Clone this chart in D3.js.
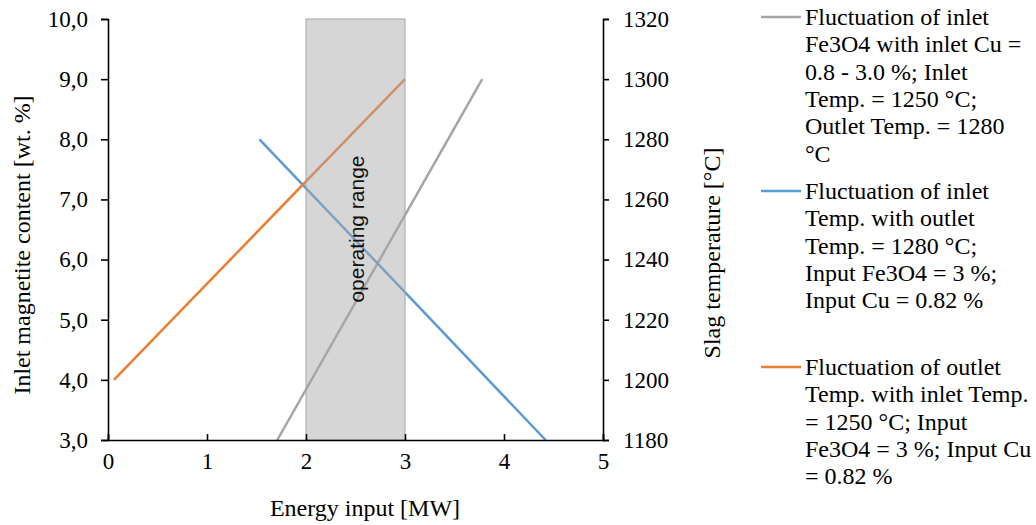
<!DOCTYPE html>
<html>
<head>
<meta charset="utf-8">
<script src="https://cdn.jsdelivr.net/npm/d3@7"></script>
<style>
  body { margin: 0; background: #fff; }
  svg { display: block; }
</style>
</head>
<body>
<svg id="chart"></svg>
<script>
// data
var xTicks = [0, 1, 2, 3, 4, 5];
var leftTicks = [3, 4, 5, 6, 7, 8, 9, 10];
var rightTicks = [1180, 1200, 1220, 1240, 1260, 1280, 1300, 1320];
var operatingRange = [2, 3];

// inlet Fe3O4 fluctuation (left axis, wt. %)
var grayX = [1.71, 3.78];
var grayY = [3.0, 9.0];
// inlet temperature fluctuation (right axis, °C)
var blueX = [1.53, 4.42];
var blueY = [1280, 1180];
// outlet temperature fluctuation (right axis, °C)
var orangeX = [0.06, 3.0];
var orangeY = [1200, 1300];

var legendGray = ["Fluctuation of inlet", "Fe3O4 with inlet Cu =", "0.8 - 3.0 %; Inlet",
                  "Temp. = 1250 °C;", "Outlet Temp. = 1280", "°C"];
var legendBlue = ["Fluctuation of inlet", "Temp. with outlet", "Temp. = 1280 °C;",
                  "Input Fe3O4 = 3 %;", "Input Cu = 0.82 %"];
var legendOrange = ["Fluctuation of outlet", "Temp. with inlet Temp.", "= 1250 °C; Input",
                    "Fe3O4 = 3 %; Input Cu", "= 0.82 %"];

var SERIF = "'Liberation Serif', 'Times New Roman', serif";

var W = 1036, H = 525;
var margin = {top: 19, right: 433, bottom: 85, left: 108},
    width = W - margin.left - margin.right,
    height = H - margin.top - margin.bottom;

var svgRoot = d3.select("#chart").attr("width", W).attr("height", H);
var svg = svgRoot.append("g")
    .attr("transform", "translate(" + margin.left + "," + margin.top + ")");

var x = d3.scaleLinear().domain([0, 5]).range([0, width]);
var yL = d3.scaleLinear().domain([3, 10]).range([height, 0]);
var yR = d3.scaleLinear().domain([1180, 1320]).range([height, 0]);

var commaFmt = d3.formatLocale({decimal: ",", thousands: "", grouping: [3], currency: ["", ""]}).format(".1f");

// series lines
var series = [
  {xs: grayX, ys: grayY, y: yL, color: "#a5a5a5"},
  {xs: blueX, ys: blueY, y: yR, color: "#5b9bd5"},
  {xs: orangeX, ys: orangeY, y: yR, color: "#ed7d31"}
];
series.forEach(function(s) {
  var pts = s.xs.map(function(v, i) { return [v, s.ys[i]]; });
  svg.append("path")
      .datum(pts)
      .attr("fill", "none")
      .attr("stroke", s.color)
      .attr("stroke-width", 2.5)
      .attr("d", d3.line()
        .x(function(d) { return x(d[0]); })
        .y(function(d) { return s.y(d[1]); }));
});

// operating range box, semi transparent over the lines
svg.append("rect")
    .attr("x", x(operatingRange[0]))
    .attr("y", 0)
    .attr("width", x(operatingRange[1]) - x(operatingRange[0]))
    .attr("height", height)
    .attr("fill", "rgb(169,167,168)")
    .attr("fill-opacity", 0.47)
    .attr("stroke", "#a6a6a6")
    .attr("stroke-width", 1);

svg.append("text")
    .attr("transform", "translate(" + ((x(operatingRange[0]) + x(operatingRange[1])) / 2 + 8) + "," + 210 + ") rotate(-90)")
    .style("text-anchor", "middle")
    .style("font-family", "'Liberation Sans', sans-serif")
    .style("font-size", "21px")
    .style("fill", "#111")
    .text("operating range");

// axes
function styleAxis(g) {
  g.selectAll("path, line").attr("stroke", "#000").attr("stroke-width", 1.6);
  g.selectAll("text").style("font-family", SERIF).style("font-size", "23px").attr("fill", "#000");
}

svg.append("g")
    .attr("transform", "translate(0," + height + ")")
    .call(d3.axisBottom(x).tickValues(xTicks).tickSize(-6).tickPadding(13).tickFormat(d3.format("d")))
    .call(styleAxis);

svg.append("g")
    .call(d3.axisLeft(yL).tickValues(leftTicks).tickSizeOuter(0).tickSize(7).tickPadding(13).tickFormat(commaFmt))
    .call(styleAxis);

svg.append("g")
    .attr("transform", "translate(" + width + ",0)")
    .call(d3.axisRight(yR).tickValues(rightTicks).tickSizeOuter(0).tickSize(6).tickPadding(14).tickFormat(d3.format("d")))
    .call(styleAxis);

// axis titles
function title(sel) {
  sel.style("font-family", SERIF).style("font-size", "24px").style("fill", "#000").style("text-anchor", "middle");
}

svgRoot.append("text")
    .attr("transform", "translate(30,245) rotate(-90)")
    .call(title)
    .text("Inlet magnetite content [wt. %]");

svgRoot.append("text")
    .attr("transform", "translate(720,253) rotate(-90)")
    .call(title)
    .text("Slag temperature [°C]");

svgRoot.append("text")
    .attr("x", 365)
    .attr("y", 516)
    .call(title)
    .text("Energy input [MW]");

// legend
var legend = svgRoot.append("g");
var blocks = [
  {lines: legendGray, color: "#a5a5a5", y: 17},
  {lines: legendBlue, color: "#5b9bd5", y: 191},
  {lines: legendOrange, color: "#ed7d31", y: 367}
];
blocks.forEach(function(b) {
  legend.append("line")
      .attr("x1", 761).attr("x2", 801)
      .attr("y1", b.y).attr("y2", b.y)
      .attr("stroke", b.color)
      .attr("stroke-width", 2.5);
  legend.selectAll(null)
      .data(b.lines)
    .enter().append("text")
      .attr("x", 805)
      .attr("y", function(d, i) { return b.y + 8 + i * 27.3; })
      .style("font-family", SERIF)
      .style("font-size", "24px")
      .style("fill", "#000")
      .text(function(d) { return d; });
});
</script>
</body>
</html>
